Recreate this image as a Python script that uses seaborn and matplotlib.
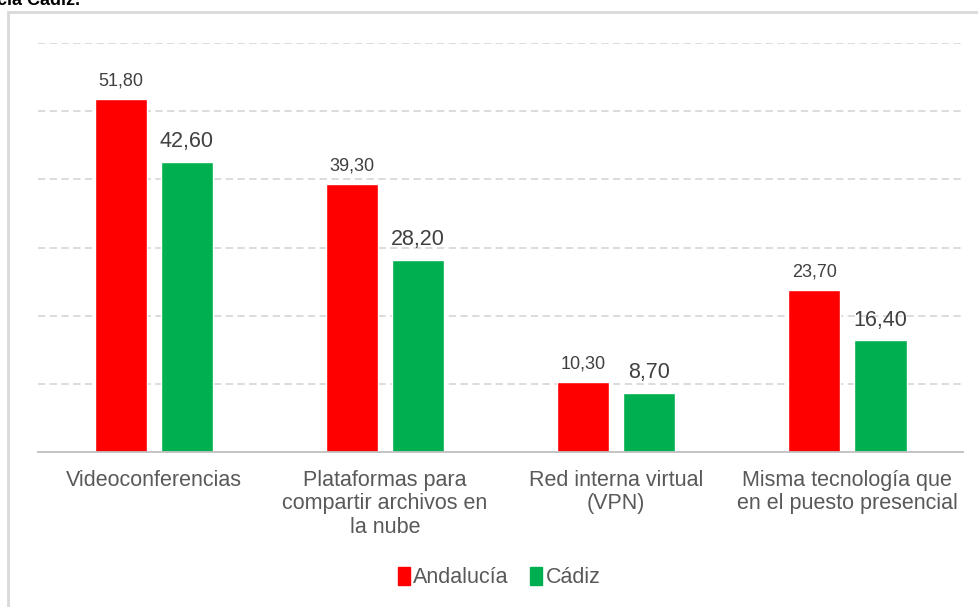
import pandas as pd
import matplotlib.pyplot as plt
import seaborn as sns
from matplotlib.patches import Rectangle

categorias = ['Videoconferencias',
              'Plataformas para\ncompartir archivos en\nla nube',
              'Red interna virtual\n(VPN)',
              'Misma tecnología que\nen el puesto presencial']
andalucia = [51.80, 39.30, 10.30, 23.70]
cadiz = [42.60, 28.20, 8.70, 16.40]
series = ['Andalucía', 'Cádiz']
colores = ['#FF0000', '#00B050']

df = pd.DataFrame({
    'categoria': categorias * 2,
    'valor': andalucia + cadiz,
    'serie': [series[0]] * 4 + [series[1]] * 4,
})

sns.set_style('white')
plt.rcParams['font.family'] = ['Liberation Sans', 'DejaVu Sans']

fig = plt.figure(figsize=(9.79, 6.07), dpi=100)
ax = fig.add_axes([0.0388, 0.2553, 0.9449, 0.6739])

sns.barplot(data=df, x='categoria', y='valor', hue='serie', palette=colores,
            width=0.571, gap=0.21, ax=ax, legend=False, saturation=1)

# etiquetas de valores
tam = {series[0]: 13, series[1]: 15.5}
for cont, s in zip(ax.containers, series):
    for barra in cont:
        h = barra.get_height()
        ax.annotate(f'{h:.2f}'.replace('.', ','), (barra.get_x() + barra.get_width() / 2, h),
                    xytext=(0, 7), textcoords='offset points', ha='center', va='bottom',
                    fontsize=tam[s], color='#404040')

ax.set_ylim(0, 60)
ax.set_xlim(-0.5, 3.5)
ax.set_yticks(range(10, 61, 10))
ax.set_yticklabels([])
ax.tick_params(axis='y', length=0)
ax.yaxis.grid(True, color='#d9d9d9', linestyle=(0, (4, 2.5)), linewidth=1.3)
ax.set_axisbelow(True)
for lado in ['top', 'right', 'left']:
    ax.spines[lado].set_visible(False)
ax.spines['bottom'].set_color('#bfbfbf')
ax.spines['bottom'].set_linewidth(1.3)

ax.set_xticks(range(4))
ax.set_xticklabels(categorias, fontsize=15.5, color='#595959', linespacing=1.15)
ax.tick_params(axis='x', which='major', length=0, pad=13)
ax.set_xticks([-0.5, 0.5, 1.5, 2.5, 3.5], minor=True)
ax.tick_params(axis='x', which='minor', length=6, color='#bfbfbf', width=1.3)
ax.set_xlabel('')
ax.set_ylabel('')

# leyenda
handles = [Rectangle((0, 0), 1, 1, color=c) for c in colores]
fig.legend(handles, series, loc='center', bbox_to_anchor=(0.51, 0.048), ncol=2,
           frameon=False, fontsize=15.5, labelcolor='#595959',
           handlelength=0.55, handleheight=0.85, handletextpad=0.15, columnspacing=1.0)

# marco del gráfico y título recortado
fig.patches.append(Rectangle((8 / 979, -0.1), 1.2, 1 - 12 / 607 + 0.1,
                             transform=fig.transFigure, fill=False,
                             edgecolor='#d9d9d9', linewidth=2))
fig.text(-0.003, 1 - 5 / 607, 'cia Cádiz.', fontsize=13, fontweight='bold',
         color='black', va='baseline', ha='left')

plt.savefig('out.png', dpi=100)
